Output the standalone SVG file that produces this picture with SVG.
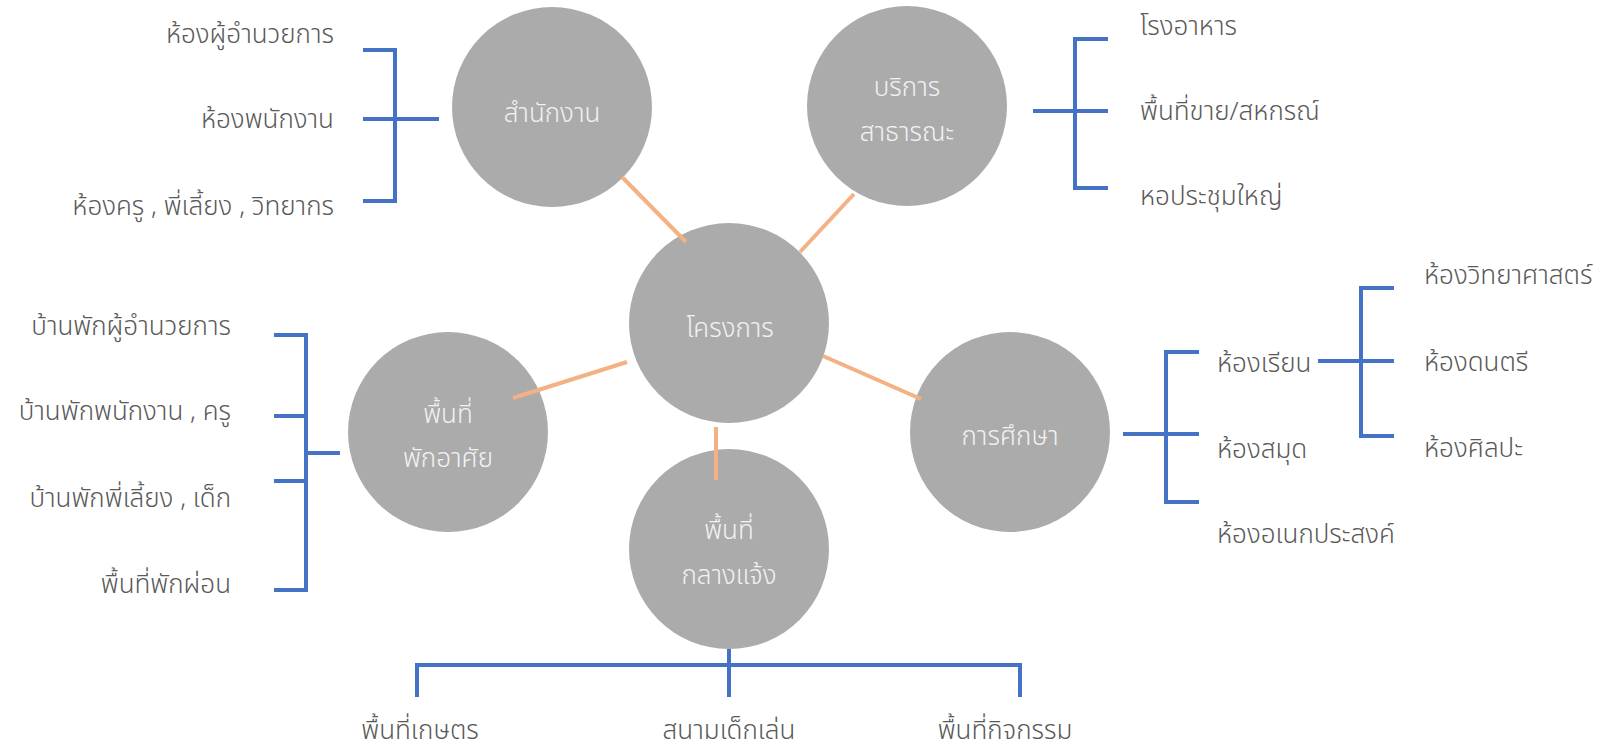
<svg xmlns="http://www.w3.org/2000/svg" width="1606" height="749" viewBox="0 0 1606 749">
<style>
.n{fill:#ABABAB}
.nt{fill:#F2F2F2;font-family:"Noto Sans Thai","Leelawadee UI",Tahoma,"Noto Sans",sans-serif;font-size:26px;font-weight:300;text-anchor:middle}
.lb{fill:#595959;font-family:"Noto Sans Thai","Leelawadee UI",Tahoma,"Noto Sans",sans-serif;font-size:26px;font-weight:300}
.r{text-anchor:end}
.m{text-anchor:middle}
.c{stroke:#F4B183;stroke-width:4;fill:none}
.b{stroke:#4472C4;stroke-width:4;fill:none}
</style>
<rect width="1606" height="749" fill="#FFFFFF"/>
<g id="node-office">
<circle class="n" cx="552" cy="107" r="100"/>
<text class="nt" x="552" y="122">สำนักงาน</text>
</g>
<g id="node-public">
<circle class="n" cx="907" cy="106" r="100"/>
<text class="nt" x="907" y="96">บริการ</text>
<text class="nt" x="907" y="141">สาธารณะ</text>
</g>
<g id="node-project">
<circle class="n" cx="729" cy="323" r="100"/>
<text class="nt" x="730" y="337">โครงการ</text>
</g>
<g id="node-residence">
<circle class="n" cx="448" cy="432" r="100"/>
<text class="nt" x="448" y="423">พื้นที่</text>
<text class="nt" x="448" y="467">พักอาศัย</text>
</g>
<g id="node-education">
<circle class="n" cx="1010" cy="432" r="100"/>
<text class="nt" x="1010" y="445">การศึกษา</text>
</g>
<g id="node-outdoor">
<circle class="n" cx="729" cy="549" r="100"/>
<text class="nt" x="729" y="539">พื้นที่</text>
<text class="nt" x="729" y="584">กลางแจ้ง</text>
</g>
<g id="connectors">
<line class="c" x1="622" y1="177" x2="686" y2="242"/>
<line class="c" x1="800" y1="252" x2="854" y2="194"/>
<line class="c" x1="513" y1="398" x2="627" y2="362"/>
<line class="c" x1="823" y1="356" x2="921" y2="399"/>
<line class="c" x1="716" y1="427" x2="716" y2="480"/>
<path class="b" d="M363 50H395V201H363M363 119H439"/>
<path class="b" d="M1108 39H1075V188H1108M1033 111H1108"/>
<path class="b" d="M1199 352H1166V502H1199M1123 434H1199"/>
<path class="b" d="M1394 288H1361V436H1394M1318 361H1394"/>
<path class="b" d="M274 335H306V590H274M274 416H306M274 481H306M306 453H340"/>
<path class="b" d="M729 649V697M417 697V665H1020V697"/>
</g>
<g id="labels-office">
<text class="lb r" x="334" y="43">ห้องผู้อำนวยการ</text>
<text class="lb r" x="334" y="128">ห้องพนักงาน</text>
<text class="lb r" x="334" y="215">ห้องครู , พี่เลี้ยง , วิทยากร</text>
</g>
<g id="labels-public">
<text class="lb" x="1140" y="35">โรงอาหาร</text>
<text class="lb" x="1140" y="120">พื้นที่ขาย/สหกรณ์</text>
<text class="lb" x="1140" y="205">หอประชุมใหญ่</text>
</g>
<g id="labels-education">
<text class="lb" x="1217" y="372">ห้องเรียน</text>
<text class="lb" x="1217" y="458">ห้องสมุด</text>
<text class="lb" x="1217" y="543">ห้องอเนกประสงค์</text>
<text class="lb" x="1424" y="284">ห้องวิทยาศาสตร์</text>
<text class="lb" x="1424" y="371">ห้องดนตรี</text>
<text class="lb" x="1424" y="457">ห้องศิลปะ</text>
</g>
<g id="labels-residence">
<text class="lb r" x="231" y="335">บ้านพักผู้อำนวยการ</text>
<text class="lb r" x="231" y="420">บ้านพักพนักงาน , ครู</text>
<text class="lb r" x="231" y="507">บ้านพักพี่เลี้ยง , เด็ก</text>
<text class="lb r" x="231" y="593">พื้นที่พักผ่อน</text>
</g>
<g id="labels-outdoor">
<text class="lb m" x="420" y="739">พื้นที่เกษตร</text>
<text class="lb m" x="729" y="739">สนามเด็กเล่น</text>
<text class="lb m" x="1005" y="739">พื้นที่กิจกรรม</text>
</g>
</svg>
